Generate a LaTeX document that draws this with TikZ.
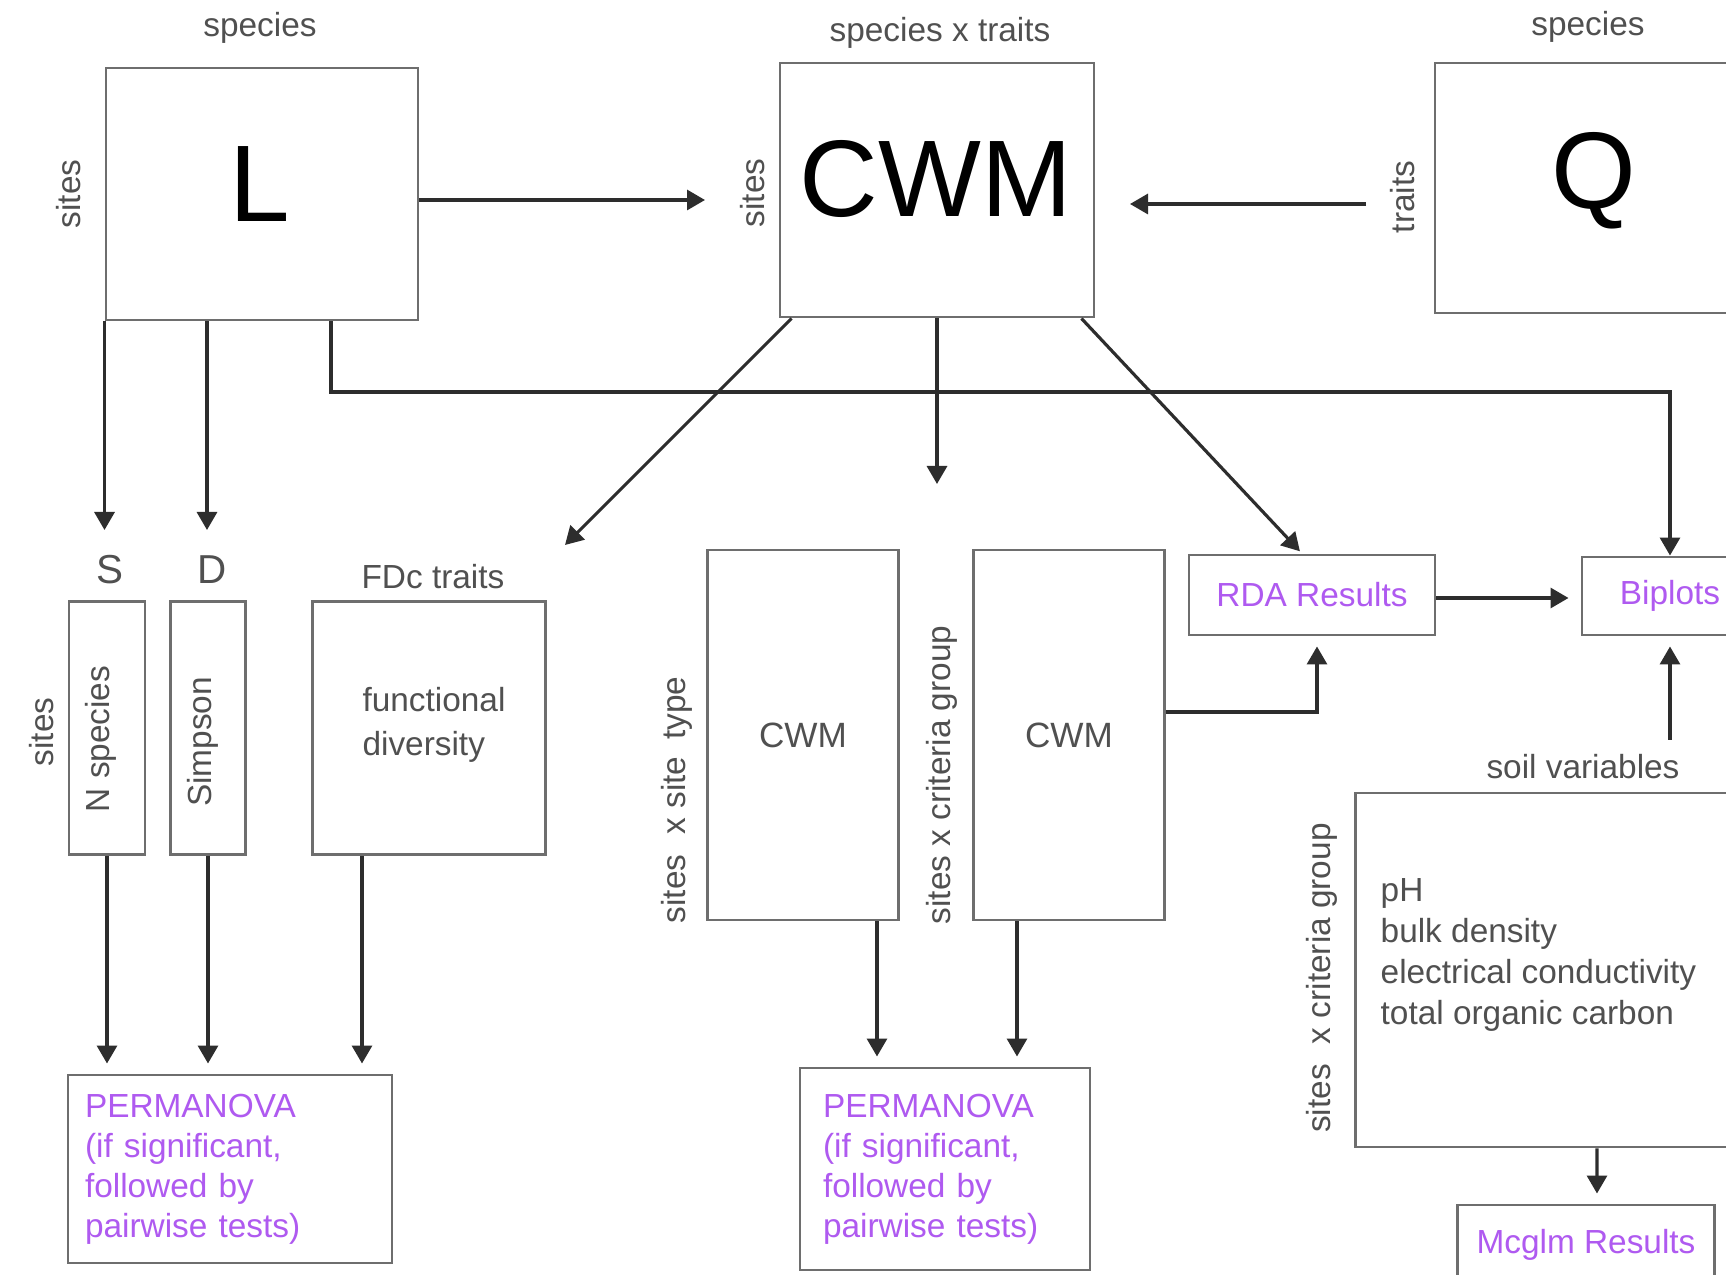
\documentclass[tikz,border=0pt]{standalone}
\usepackage{fontspec}
\setmainfont{Liberation Sans}
\usetikzlibrary{arrows.meta}
\definecolor{boxgray}{RGB}{110,110,110}
\definecolor{linegray}{RGB}{45,45,45}
\definecolor{labgray}{RGB}{80,80,80}
\definecolor{purp}{RGB}{175,90,240}
\tikzset{
  box/.style={draw=boxgray, line width=0.85pt, rectangle, inner sep=0pt},
  lab/.style={text=labgray, inner sep=0pt, font=\fontsize{9.5}{11.4}\selectfont},
  big/.style={text=black, inner sep=0pt, font=\fontsize{31}{31}\selectfont},
  sdlab/.style={text=labgray, inner sep=0pt, font=\fontsize{11.5}{12}\selectfont},
  res/.style={text=purp, font=\fontsize{9.5}{11.4}\selectfont},
  perm/.style={box, text=purp, align=left, font=\fontsize{9.5}{11.4}\selectfont},
  ln/.style={draw=linegray, line width=0.9pt},
  arr/.style={ln, -{Triangle[length=1.8mm,width=2.0mm]}},
}
\begin{document}
\begin{tikzpicture}[x=0.1mm,y=-0.1mm]
\useasboundingbox (0,0) rectangle (1726,1275);
\fill[white] (0,0) rectangle (1726,1275);

% top row
\node[box, minimum width=31.2mm, minimum height=25.2mm] (L) at (262,194) {};
\node[big] (Lt) at (260,184) {L};
\node[lab] (Lsp) at (260,28) {species};
\node[lab, rotate=90] (Lsites) at (69,194) {sites};

\node[box, minimum width=31.4mm, minimum height=25.4mm] (C) at (937,190) {};
\node[big] (Ct) at (936,179) {CWM};
\node[lab] (Csp) at (940,33) {species x traits};
\node[lab, rotate=90] (Csites) at (753,193) {sites};

\node[box, minimum width=31.4mm, minimum height=25mm] (Q) at (1592,188) {};
\node[big] (Qt) at (1594,181) {Q};
\node[lab] (Qsp) at (1588,27) {species};
\node[lab, rotate=90] (Qtr) at (1403,197) {traits};

\coordinate (a1) at (705,200);
\draw[arr] (L.east |- a1) -- (a1);
\coordinate (q0) at (1366,204);
\coordinate (q1) at (1130,204);
\draw[arr] (q0) -- (q1);

% middle-left
\node[sdlab] (S) at (110,570) {S};
\node[sdlab] (D) at (212,570) {D};
\node[lab] (FDc) at (433,577) {FDc traits};
\node[lab, rotate=90] (Ssites) at (42,732) {sites};
\node[box, minimum width=7.6mm, minimum height=25.3mm] (N) at (107,728) {};
\node[lab, rotate=90] (Nt) at (101,739) {N species};
\node[box, minimum width=7.5mm, minimum height=25.3mm] (Sim) at (208,728) {};
\node[lab, rotate=90] (Simt) at (203,742) {Simpson};
\node[box, minimum width=23.3mm, minimum height=25.3mm] (FD) at (429,728) {};
\node[lab, align=left, font=\fontsize{9.5}{12.5}\selectfont] (FDt) at (434,725) {functional\\diversity};

\coordinate (Sa) at (107,530);
\coordinate (Da) at (207,530);
\coordinate (Lc) at (331,392);
\draw[arr] (L.south west) -- (L.south west |- Sa);
\draw[arr] (L.south -| Da) -- (Da);

\node[perm, minimum width=32.4mm, minimum height=18.8mm, text width=29mm, inner xsep=1.7mm] (P1) at (230,1169)
  {PERMANOVA\\(if significant,\\followed by\\pairwise tests)};
\draw[arr, shorten >=1mm] (N.south) -- (N.south |- P1.north);
\draw[arr, shorten >=1mm] (Sim.south) -- (Sim.south |- P1.north);
\draw[arr, shorten >=1mm] ([xshift=-6.7mm]FD.south) -- ([xshift=-6.7mm]FD.south |- P1.north);

% middle CWM boxes
\node[box, minimum width=19.1mm, minimum height=37mm, text=labgray, font=\fontsize{10}{12}\selectfont] (C2) at (803,735) {CWM};
\node[box, minimum width=19.1mm, minimum height=37mm, text=labgray, font=\fontsize{10}{12}\selectfont] (C3) at (1069,735) {CWM};
\node[lab, rotate=90] (C2l) at (677,800) {sites\hspace{0.6em}x site\hspace{0.5em}type};
\node[lab, rotate=90] (C3l) at (942,775) {sites x criteria group};

\node[perm, minimum width=29mm, minimum height=20.2mm, text width=24.4mm, inner xsep=2.3mm] (P2) at (945,1169)
  {PERMANOVA\\(if significant,\\followed by\\pairwise tests)};
\draw[arr, shorten >=1mm] ([xshift=7.4mm]C2.south) -- ([xshift=7.4mm]C2.south |- P2.north);
\draw[arr, shorten >=1mm] ([xshift=-5.2mm]C3.south) -- ([xshift=-5.2mm]C3.south |- P2.north);

% diagonal / down arrows from CWM
\coordinate (dl) at (565,545);
\coordinate (dc) at (937,484);
\draw[arr] ([xshift=1.3mm]C.south west) -- (dl);
\draw[arr] (C.south) -- (dc);

% right side
\node[box, minimum width=24.6mm, minimum height=8mm, res] (R) at (1312,595) {RDA Results};
\node[box, minimum width=17.6mm, minimum height=7.8mm, res] (B) at (1670,596) {Biplots};
\draw[arr, shorten >=0.3mm] ([xshift=-1.4mm]C.south east) -- ([xshift=-1mm]R.north);
\draw[arr] (L.south -| Lc) -- (Lc) -| (B.north);
\draw[arr, shorten >=1.2mm] (R.east |- 0,598) -- (B.west |- 0,598);
\draw[arr, shorten >=1mm] ([yshift=2.3mm]C3.east) -| ([xshift=0.5mm]R.south);

\node[lab] (Sv) at (1583,767) {soil variables};
\coordinate (sv0) at (1670,740);
\draw[arr, shorten >=1mm] (sv0) -- (B.south);
\node[box, minimum width=45.6mm, minimum height=35.4mm] (So) at (1583,970) {};
\node[lab, anchor=west, align=left, font=\fontsize{9.5}{11.6}\selectfont] (Sot) at (1380,955)
  {pH\\bulk density\\electrical conductivity\\total organic carbon};
\node[lab, rotate=90] (Sol) at (1322,978) {sites\hspace{0.6em}x criteria group};

\node[box, minimum width=25.7mm, minimum height=8mm, res] (M) at (1586,1245) {Mcglm Results};
\draw[arr, shorten >=1mm] ([xshift=1.4mm]So.south) -- ([xshift=1.1mm]M.north);
\end{tikzpicture}
\end{document}
